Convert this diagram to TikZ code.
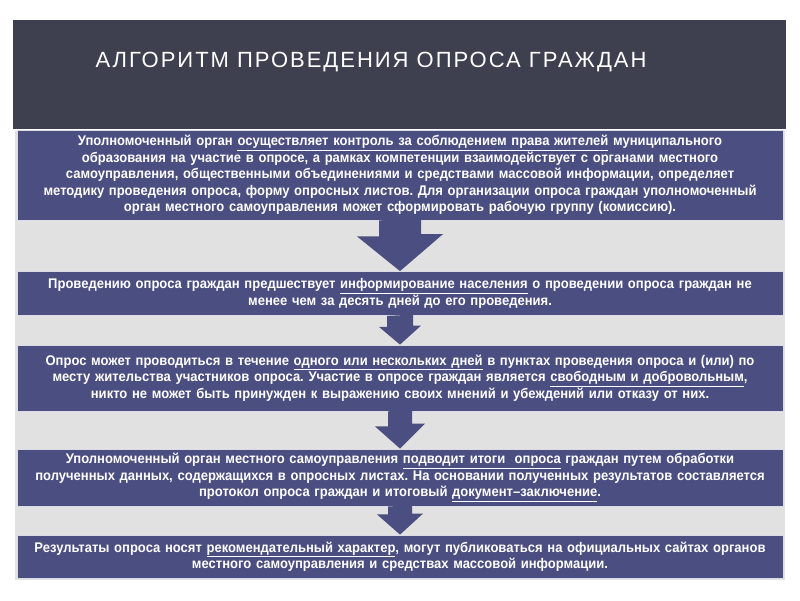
\documentclass[tikz,border=0pt]{standalone}
\usepackage{fontspec}
\setmainfont{Liberation Sans}[FakeStretch=0.93]
\newfontfamily\titlefont{Liberation Sans}[LetterSpace=9]
\newcommand\ulx[1]{\underline{#1}}
\definecolor{hdr}{HTML}{3E3F4F}
\definecolor{panel}{HTML}{E1E1E1}
\definecolor{boxc}{HTML}{4B4E80}
\tikzset{
  stepbox/.style={fill=boxc,draw=white!80!boxc,line width=0.8pt,text=white,font=\frenchspacing\bfseries\fontsize{14}{16.5}\selectfont,align=center,inner sep=0pt,minimum width=766,text width=764},
  blockarrow/.style={fill=boxc,draw=none}
}
\begin{document}
\begin{tikzpicture}[x=1pt,y=-1pt]
\useasboundingbox (0,0) rectangle (800,600);
\fill[white] (0,0) rectangle (800,600);
\fill[hdr] (13,20) rectangle (786,129);
\node[text=white,font=\titlefont\fontsize{22}{26}\selectfont,anchor=west] (title) at (92,62) {АЛГОРИТМ ПРОВЕДЕНИЯ ОПРОСА ГРАЖДАН};
\fill[panel] (15,131) rectangle (785,580);
% boxes
\node[stepbox,minimum height=90] (b1) at (400,175) {Уполномоченный орган \ulx{осуществляет контроль за соблюдением права жителей} муниципального\\ образования на участие в опросе, а рамках компетенции взаимодействует с органами местного\\ самоуправления, общественными объединениями и средствами массовой информации, определяет\\ методику проведения опроса, форму опросных листов. Для организации опроса граждан уполномоченный\\ орган местного самоуправления может сформировать рабочую группу (комиссию).};
\node[stepbox,minimum height=44] (b2) at (400,293.5) {Проведению опроса граждан предшествует \ulx{информирование населения} о проведении опроса граждан не\\ менее чем за десять дней до его проведения.};
\node[stepbox,minimum height=66] (b3) at (400,378) {Опрос может проводиться в течение \ulx{одного или нескольких дней} в пунктах проведения опроса и (или) по\\ месту жительства участников опроса. Участие в опросе граждан является \ulx{свободным и добровольным},\\ никто не может быть принужден к выражению своих мнений и убеждений или отказу от них.};
\node[stepbox,minimum height=57] (b4) at (400,477.5) {Уполномоченный орган местного самоуправления \ulx{подводит итоги\ \ опроса} граждан путем обработки\\ полученных данных, содержащихся в опросных листах. На основании полученных результатов составляется\\ протокол опроса граждан и итоговый \ulx{документ--заключение}.};
\node[stepbox,minimum height=43] (b5) at (400,556.5) {Результаты опроса носят \ulx{рекомендательный характер}, могут публиковаться на официальных сайтах органов\\ местного самоуправления и средствах массовой информации.};
% arrows
\fill[blockarrow] ([xshift=-21pt]b1.south) -- ++(0,16) -- ++(-22,0) -- (b2.north) -- ++(43,-37) -- ++(-22,0) -- ++(0,-16) -- cycle;
\fill[blockarrow] ([xshift=-13pt]b2.south) -- ++(0,11) -- ++(-8,0) -- (b3.north) -- ++(21,-19) -- ++(-8,0) -- ++(0,-11) -- cycle;
\fill[blockarrow] ([xshift=-12pt]b3.south) -- ++(0,15) -- ++(-13,0) -- (b4.north) -- ++(25,-25) -- ++(-13,0) -- ++(0,-15) -- cycle;
\fill[blockarrow] ([xshift=-12pt]b4.south) -- ++(0,8) -- ++(-11,0) -- (b5.north) -- ++(23,-21) -- ++(-11,0) -- ++(0,-8) -- cycle;
\end{tikzpicture}
\end{document}
